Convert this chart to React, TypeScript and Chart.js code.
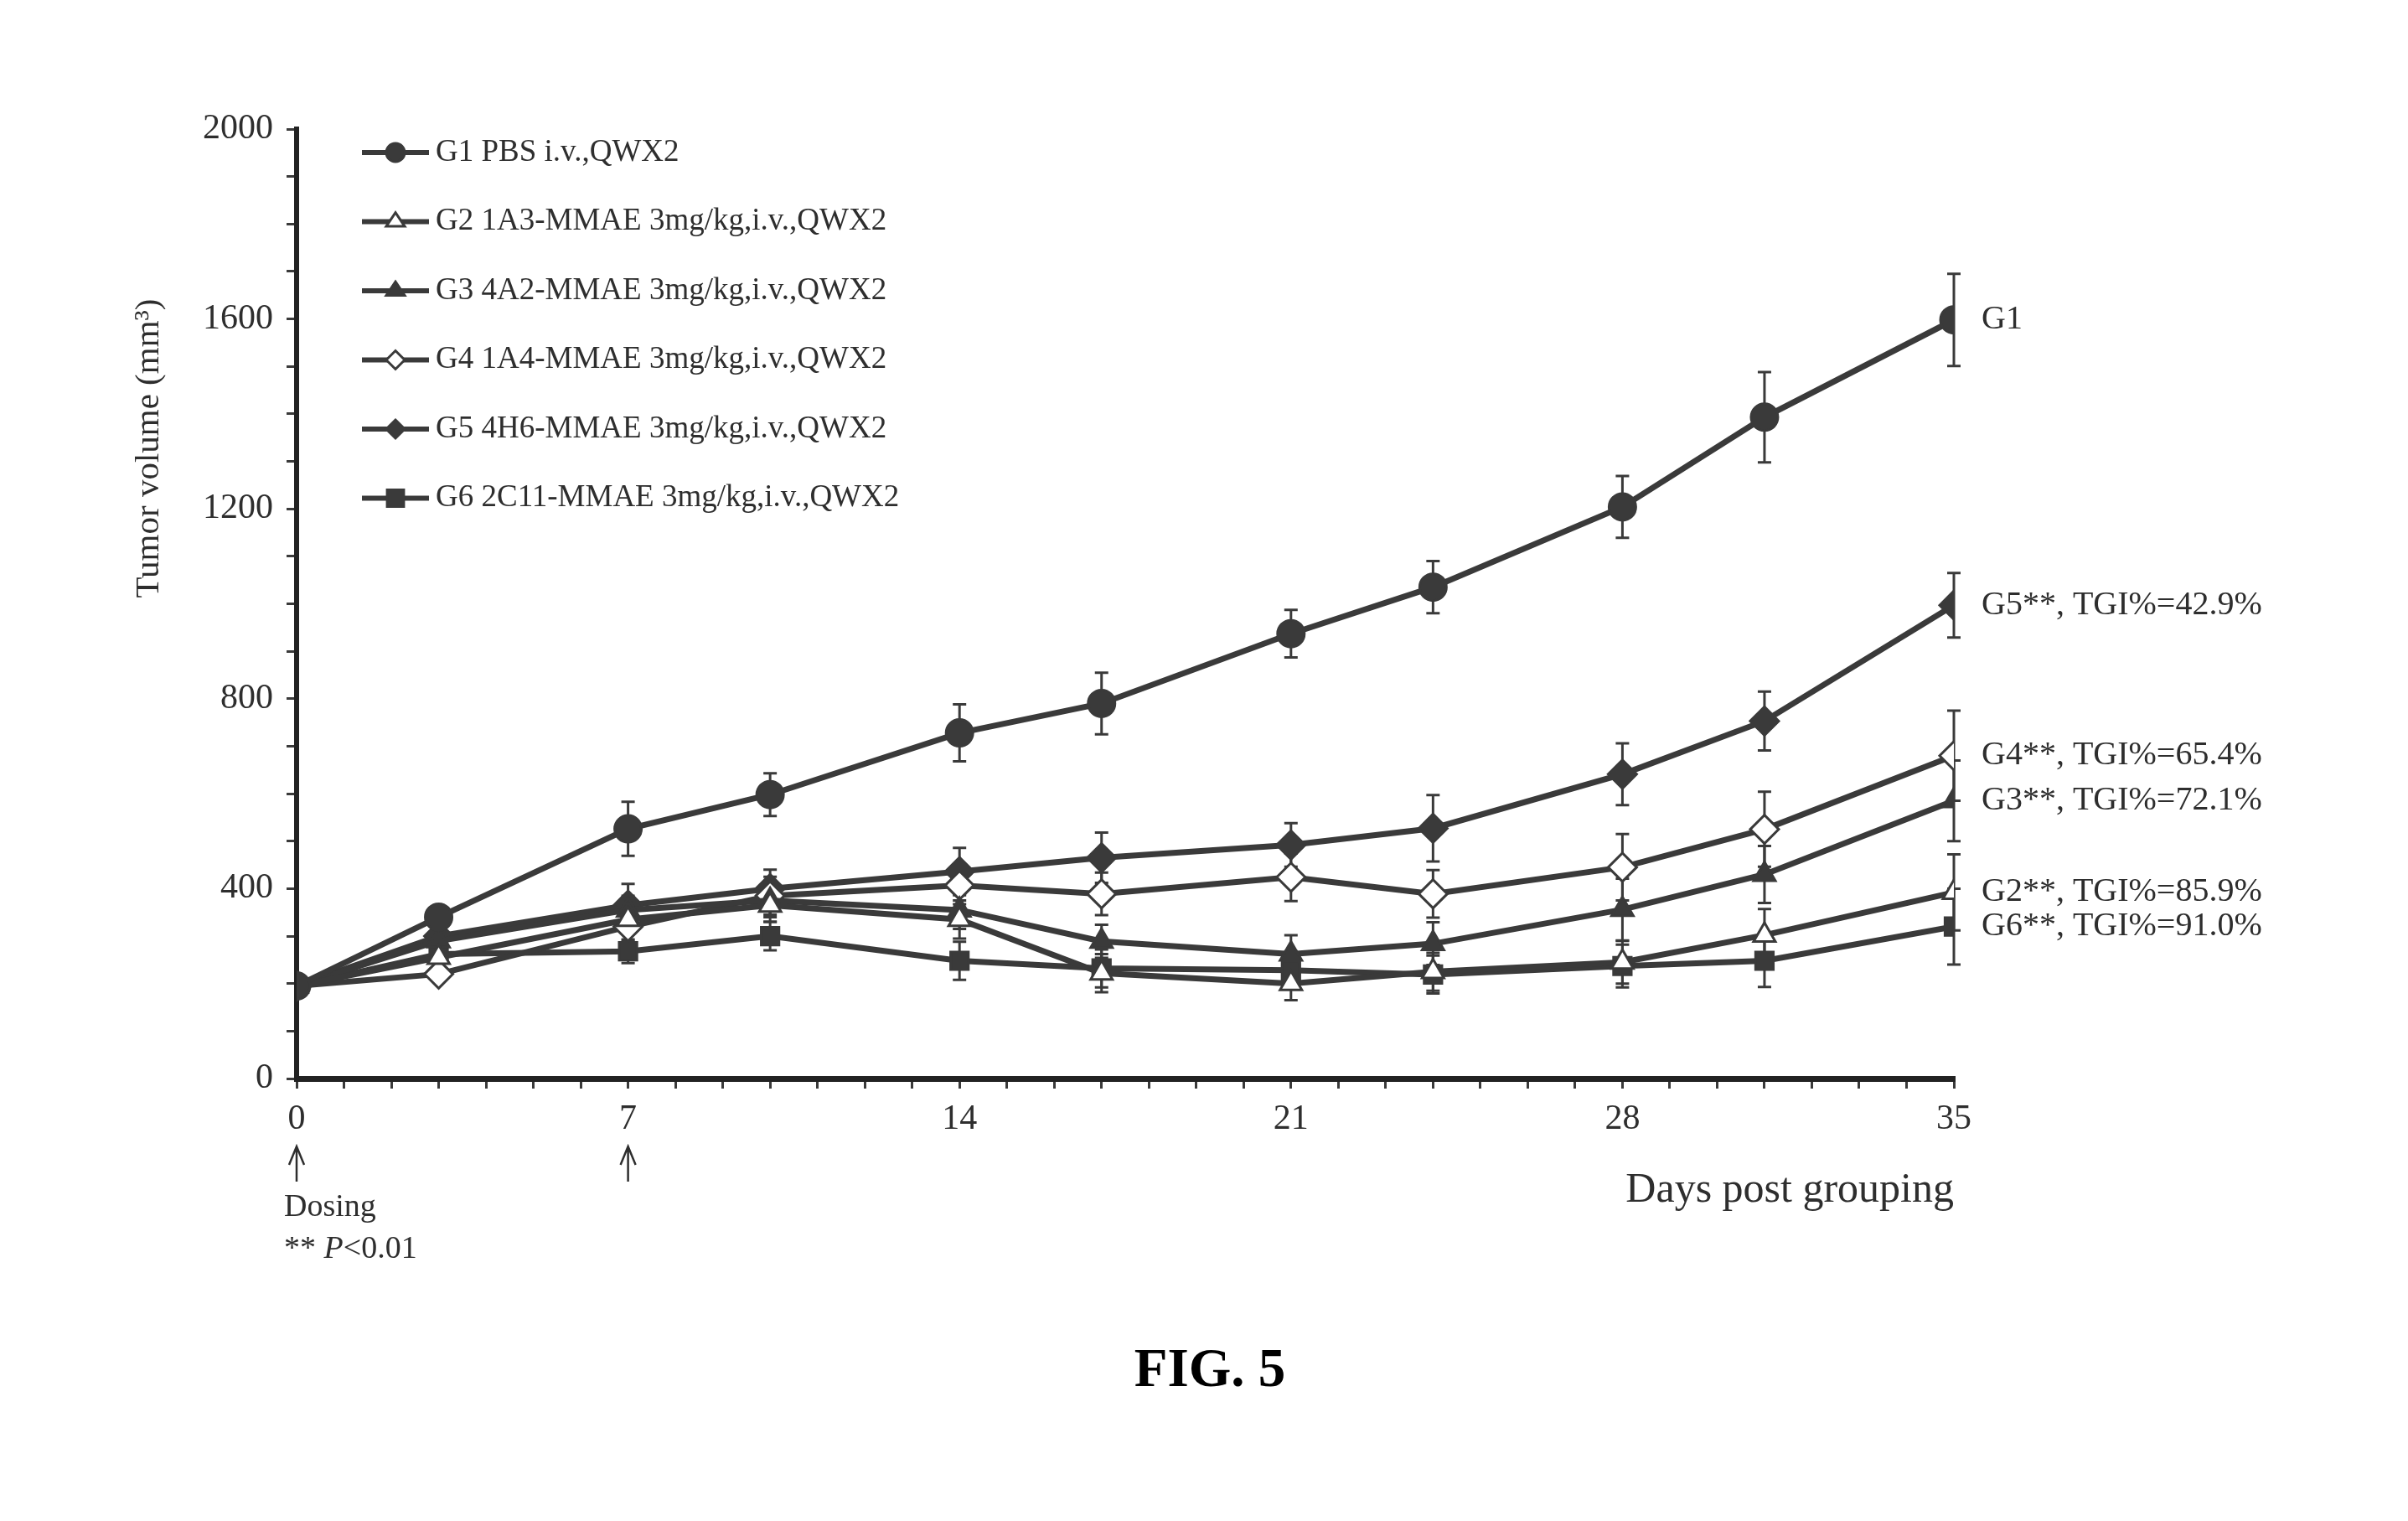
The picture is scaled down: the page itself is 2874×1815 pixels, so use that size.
import React, { useEffect, useRef } from 'react';
import { Chart, registerables } from 'chart.js';

Chart.register(...registerables);

// ---------- data ----------
const days = [0, 3, 7, 10, 14, 17, 21, 24, 28, 31, 35];
const g1 = [195, 340, 526, 598, 728, 790, 937, 1035, 1204, 1393, 1598];
const g2 = [195, 255, 335, 365, 335, 222, 200, 225, 245, 302, 392];
const g3 = [195, 290, 355, 375, 355, 289, 262, 284, 356, 430, 585];
const g4 = [195, 220, 320, 385, 407, 389, 424, 389, 445, 525, 680];
const g5 = [195, 300, 365, 400, 436, 465, 492, 527, 641, 753, 997];
const g6 = [195, 262, 268, 300, 248, 232, 228, 219, 237, 248, 320];

const e1 = [0, 12, 57, 45, 60, 65, 50, 55, 65, 95, 97];
const e2 = [0, 10, 30, 35, 40, 40, 35, 40, 45, 55, 80];
const e3 = [0, 10, 30, 35, 40, 35, 40, 45, 65, 60, 85];
const e4 = [0, 10, 30, 40, 40, 45, 50, 50, 70, 79, 95];
const e5 = [0, 10, 45, 40, 50, 53, 46, 70, 65, 62, 68];
const e6 = [0, 10, 25, 30, 40, 40, 40, 40, 45, 55, 80];

const seriesNames = [
  'G1 PBS i.v.,QWX2',
  'G2 1A3-MMAE 3mg/kg,i.v.,QWX2',
  'G3 4A2-MMAE 3mg/kg,i.v.,QWX2',
  'G4 1A4-MMAE 3mg/kg,i.v.,QWX2',
  'G5 4H6-MMAE 3mg/kg,i.v.,QWX2',
  'G6 2C11-MMAE 3mg/kg,i.v.,QWX2',
];
const endLabels = [
  'G1',
  'G2**, TGI%=85.9%',
  'G3**, TGI%=72.1%',
  'G4**, TGI%=65.4%',
  'G5**, TGI%=42.9%',
  'G6**, TGI%=91.0%',
];
const xLabelDays = [0, 7, 14, 21, 28, 35];
const doseDays = [0, 7];
const yLabelEvery = 400;

const seriesValues = [g1, g2, g3, g4, g5, g6];
const seriesErrors = [e1, e2, e3, e4, e5, e6];

// ---------- styles ----------
const W = 2874;
const H = 1815;
const SERIF = "'Liberation Serif', 'Times New Roman', serif";
const INK = '#3a3a3a';
const TXT = '#2e2e2e';
const markerStyles = ['circle', 'triangle', 'triangle', 'rectRot', 'rectRot', 'rect'];
const markerFilled = [true, false, true, false, true, true];
const markerRadius = [16, 15, 15, 17, 17, 15];

function drawMarker(ctx: CanvasRenderingContext2D, style: string, x: number, y: number, r: number, filled: boolean) {
  ctx.beginPath();
  if (style === 'circle') {
    ctx.arc(x, y, r, 0, Math.PI * 2);
  } else if (style === 'rect') {
    const s = r * 0.9;
    ctx.rect(x - s, y - s, 2 * s, 2 * s);
  } else if (style === 'rectRot') {
    ctx.moveTo(x, y - r);
    ctx.lineTo(x + r, y);
    ctx.lineTo(x, y + r);
    ctx.lineTo(x - r, y);
    ctx.closePath();
  } else {
    const h = r * 1.5;
    ctx.moveTo(x, y - h * 0.66);
    ctx.lineTo(x + r, y + h * 0.34);
    ctx.lineTo(x - r, y + h * 0.34);
    ctx.closePath();
  }
  ctx.fillStyle = filled ? INK : '#ffffff';
  ctx.fill();
  ctx.lineWidth = 3;
  ctx.strokeStyle = INK;
  ctx.stroke();
}

function text(ctx: CanvasRenderingContext2D, s: string, x: number, y: number, font: string, align: CanvasTextAlign = 'left', color = TXT) {
  ctx.font = font;
  ctx.fillStyle = color;
  ctx.textAlign = align;
  ctx.textBaseline = 'middle';
  ctx.fillText(s, x, y);
}

const errorBarPlugin = {
  id: 'errorBars',
  beforeDatasetsDraw(chart: any) {
    const { ctx } = chart;
    const yScale = chart.scales.y;
    ctx.save();
    ctx.strokeStyle = INK;
    ctx.lineWidth = 3;
    chart.data.datasets.forEach((ds: any, i: number) => {
      const meta = chart.getDatasetMeta(i);
      const errs = seriesErrors[i];
      meta.data.forEach((pt: any, j: number) => {
        const v = ds.data[j].y;
        const e = errs[j];
        if (!e) return;
        const top = yScale.getPixelForValue(v + e);
        const bot = yScale.getPixelForValue(v - e);
        const x = pt.x;
        ctx.beginPath();
        ctx.moveTo(x, top);
        ctx.lineTo(x, bot);
        ctx.moveTo(x - 8, top);
        ctx.lineTo(x + 8, top);
        ctx.moveTo(x - 8, bot);
        ctx.lineTo(x + 8, bot);
        ctx.stroke();
      });
    });
    ctx.restore();
  },
};

const annotationPlugin = {
  id: 'annotations',
  afterDraw(chart: any) {
    const { ctx } = chart;
    const xs = chart.scales.x;
    ctx.save();

    // legend
    const legendFont = `37px ${SERIF}`;
    chart.data.datasets.forEach((ds: any, i: number) => {
      const y = 182 + i * 82.5;
      ctx.strokeStyle = INK;
      ctx.lineWidth = 6;
      ctx.beginPath();
      ctx.moveTo(432, y);
      ctx.lineTo(512, y);
      ctx.stroke();
      drawMarker(ctx, markerStyles[i], 472, y, 11, markerFilled[i]);
      text(ctx, ds.label, 520, y, legendFont);
    });

    // end-of-line labels
    chart.data.datasets.forEach((ds: any, i: number) => {
      const meta = chart.getDatasetMeta(i);
      const last = meta.data[meta.data.length - 1];
      text(ctx, endLabels[i], last.x + 33, last.y, `40px ${SERIF}`);
    });

    // y axis title
    ctx.save();
    ctx.translate(178, 535);
    ctx.rotate(-Math.PI / 2);
    text(ctx, 'Tumor volume (mm\u00B3)', 0, 0, `41px ${SERIF}`, 'center');
    ctx.restore();

    // dosing arrows
    doseDays.forEach((d) => {
      const x = xs.getPixelForValue(d);
      ctx.strokeStyle = TXT;
      ctx.lineWidth = 2.5;
      ctx.beginPath();
      ctx.moveTo(x, 1410);
      ctx.lineTo(x, 1370);
      ctx.moveTo(x - 9, 1390);
      ctx.lineTo(x, 1368);
      ctx.lineTo(x + 9, 1390);
      ctx.stroke();
    });
    text(ctx, 'Dosing', 339, 1441, `38px ${SERIF}`);
    ctx.font = `38px ${SERIF}`;
    const w1 = ctx.measureText('** ').width;
    text(ctx, '** ', 339, 1491, `38px ${SERIF}`);
    text(ctx, 'P', 339 + w1, 1491, `italic 38px ${SERIF}`);
    ctx.font = `italic 38px ${SERIF}`;
    const w2 = ctx.measureText('P').width;
    text(ctx, '<0.01', 339 + w1 + w2, 1491, `38px ${SERIF}`);

    // figure caption
    text(ctx, 'FIG. 5', 1444, 1637, `bold 65px ${SERIF}`, 'center', '#000');

    ctx.restore();
  },
};

export default function App() {
  const ref = useRef<HTMLCanvasElement | null>(null);

  useEffect(() => {
    if (!ref.current) return;
    const datasets = seriesValues.map((vals, i) => ({
      label: seriesNames[i],
      data: vals.map((v, j) => ({ x: days[j], y: v })),
      borderColor: INK,
      borderWidth: 7,
      backgroundColor: markerFilled[i] ? INK : '#ffffff',
      pointStyle: markerStyles[i] as any,
      pointRadius: markerRadius[i],
      pointBorderWidth: 3,
      pointBorderColor: INK,
      pointBackgroundColor: markerFilled[i] ? INK : '#ffffff',
      tension: 0,
      fill: false,
    }));

    const chart = new Chart(ref.current, {
      type: 'line',
      data: { datasets },
      plugins: [errorBarPlugin, annotationPlugin],
      options: {
        animation: false,
        responsive: false,
        devicePixelRatio: 1,
        layout: { padding: { left: 0, top: 154, right: W - 2332, bottom: 0 } },
        plugins: {
          legend: { display: false },
          tooltip: { enabled: false },
          title: { display: false },
        },
        scales: {
          x: {
            type: 'linear',
            min: 0,
            max: 35,
            ticks: {
              stepSize: 1,
              autoSkip: false,
              maxRotation: 0,
              padding: 12,
              color: TXT,
              font: { family: SERIF, size: 42 },
              callback: (v: any) => (xLabelDays.includes(Number(v)) ? String(v) : ''),
            },
            grid: { drawOnChartArea: false, drawTicks: true, tickLength: 12, color: INK, lineWidth: 3 },
            border: { display: true, color: '#222', width: 7 },
            title: {
              display: true,
              text: 'Days post grouping',
              align: 'end',
              color: TXT,
              font: { family: SERIF, size: 50 },
              padding: { top: 0, bottom: 364 },
            },
            afterFit: (s: any) => {
              s.height = H - 1287;
            },
          },
          y: {
            type: 'linear',
            min: 0,
            max: 2000,
            ticks: {
              stepSize: 100,
              autoSkip: false,
              padding: 16,
              color: TXT,
              font: { family: SERIF, size: 42 },
              callback: (v: any) => (Number(v) % yLabelEvery === 0 ? String(v) : ''),
            },
            grid: { drawOnChartArea: false, drawTicks: true, tickLength: 12, color: INK, lineWidth: 3 },
            border: { display: true, color: '#222', width: 6 },
            afterFit: (s: any) => {
              s.width = 354;
            },
          },
        },
      },
    });
    return () => chart.destroy();
  }, []);

  return (
    <div style={{ position: 'fixed', left: 0, top: 0, width: W, height: H, background: '#fff' }}>
      <canvas ref={ref} width={W} height={H} style={{ width: W, height: H, display: 'block' }} />
    </div>
  );
}
